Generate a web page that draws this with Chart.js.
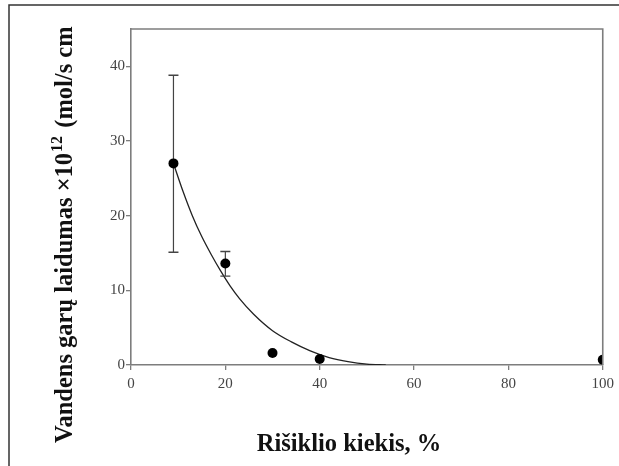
<!DOCTYPE html>
<html>
<head>
<meta charset="utf-8">
<script src="https://cdn.jsdelivr.net/npm/chart.js@4"></script>
<style>
  html, body { margin: 0; padding: 0; background: #fff; }
  #c { display: block; }
</style>
</head>
<body>
<canvas id="c" width="619" height="466"></canvas>
<script>
// ---- data ----
const pointX = [9, 20, 30, 40, 100];
const pointY = [27.0, 13.6, 1.6, 0.8, 0.7];
const errX   = [9, 20];
const errLow = [15.1, 11.9];
const errHigh= [38.8, 15.2];
const fitX = [9, 11, 13, 15, 17, 19, 21, 23, 26, 30, 34, 38, 42, 46, 50, 54];
const fitY = [27.0, 23.3, 20.0, 17.2, 14.8, 12.6, 10.6, 8.9, 6.8, 4.6, 3.1, 1.9, 1.0, 0.45, 0.12, 0.0];
const xTicks = [0, 20, 40, 60, 80, 100];
const yTicks = [0, 10, 20, 30, 40];
const xTitle = "Rišiklio kiekis, %";
const yTitleMain = "Vandens garų laidumas ×10";
const yTitleSup = "12";
const yTitleEnd = " (mol/s cm";

const axisColor = "#7d7d7d";
const serif = "'Liberation Serif', 'Times New Roman', serif";

const datasets = [];
// fitted curve
datasets.push({
  type: 'line',
  data: fitX.map((x, i) => ({x, y: fitY[i]})),
  borderColor: '#222',
  borderWidth: 1.3,
  pointRadius: 0,
  tension: 0.4,
  cubicInterpolationMode: 'monotone',
  fill: false,
  order: 3
});
// error bars
errX.forEach((x, i) => {
  datasets.push({
    type: 'line',
    data: [{x, y: errLow[i]}, {x, y: errHigh[i]}],
    borderColor: '#444',
    borderWidth: 1.2,
    pointStyle: 'line',
    pointRadius: 5,
    pointBorderColor: '#444',
    pointBorderWidth: 1.4,
    fill: false,
    order: 2
  });
});
// measured points
datasets.push({
  type: 'scatter',
  data: pointX.map((x, i) => ({x, y: pointY[i]})),
  backgroundColor: '#000',
  borderColor: '#000',
  pointRadius: 5,
  pointBorderWidth: 0,
  order: 1
});

const decor = {
  id: 'decor',
  beforeDraw(chart) {
    const ctx = chart.ctx;
    ctx.save();
    ctx.fillStyle = '#fff';
    ctx.fillRect(0, 0, chart.width, chart.height);
    // outer frame (only left and top visible)
    ctx.strokeStyle = '#333';
    ctx.lineWidth = 1.5;
    ctx.beginPath();
    ctx.moveTo(9, chart.height + 2);
    ctx.lineTo(9, 5);
    ctx.lineTo(chart.width + 2, 5);
    ctx.stroke();
    ctx.restore();
  },
  afterDraw(chart) {
    const ctx = chart.ctx;
    const a = chart.chartArea;
    ctx.save();
    // top and right frame lines
    ctx.strokeStyle = axisColor;
    ctx.lineWidth = 1.6;
    ctx.beginPath();
    ctx.moveTo(a.left, a.top);
    ctx.lineTo(a.right, a.top);
    ctx.lineTo(a.right, a.bottom);
    ctx.stroke();

    // x title
    ctx.fillStyle = '#111';
    ctx.font = "bold 24.5px " + serif;
    ctx.textAlign = 'center';
    ctx.textBaseline = 'alphabetic';
    ctx.fillText(xTitle, 349, 451);

    // y title with superscript
    ctx.translate(72, 443);
    ctx.rotate(-Math.PI / 2);
    ctx.textAlign = 'left';
    ctx.font = "bold 24.5px " + serif;
    ctx.fillText(yTitleMain, 0, 0);
    let w = ctx.measureText(yTitleMain).width;
    ctx.font = "bold 16px " + serif;
    ctx.fillText(yTitleSup, w + 1, -10);
    w += 1 + ctx.measureText(yTitleSup).width;
    ctx.font = "bold 24.5px " + serif;
    ctx.fillText(yTitleEnd, w + 2, 0);
    ctx.restore();
  }
};

new Chart(document.getElementById('c'), {
  data: { datasets },
  options: {
    responsive: false,
    animation: false,
    layout: { padding: { left: 0, top: 29, right: 16, bottom: 0 } },
    plugins: { legend: { display: false }, tooltip: { enabled: false } },
    scales: {
      x: {
        type: 'linear',
        min: 0, max: 100,
        afterBuildTicks(s) { s.ticks = xTicks.map(v => ({value: v})); },
        afterFit(s) { s.height = 101; },
        grid: { drawOnChartArea: false, drawTicks: true, tickLength: 5, color: axisColor, lineWidth: 1.3 },
        border: { color: axisColor, width: 1.6 },
        ticks: { color: '#444', padding: 5, font: { family: serif, size: 15 } },
        title: { display: false }
      },
      y: {
        type: 'linear',
        min: 0, max: 45,
        afterBuildTicks(s) { s.ticks = yTicks.map(v => ({value: v})); },
        afterFit(s) { s.width = 131; },
        grid: { drawOnChartArea: false, drawTicks: true, tickLength: 5, color: axisColor, lineWidth: 1.3 },
        border: { color: axisColor, width: 1.6 },
        ticks: { color: '#444', padding: 1, font: { family: serif, size: 15 } },
        title: { display: false }
      }
    }
  },
  plugins: [decor]
});
</script>
</body>
</html>
